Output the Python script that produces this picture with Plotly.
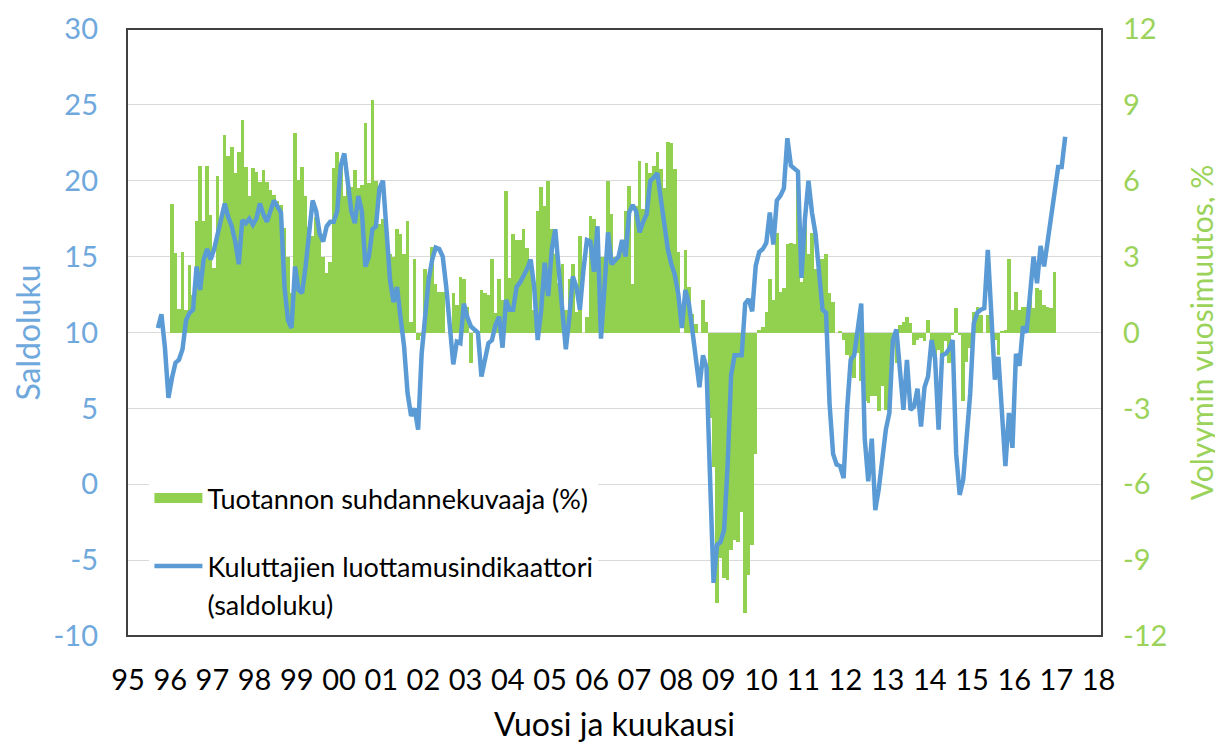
import plotly.graph_objects as go

# ---------------- data ----------------
# Consumer confidence (saldoluku), monthly from Sep 1995 to Mar 2017
line_start_year, line_start_month = 1995, 9
saldo_1995 = [10.3, 11.2, 9.0, 5.7]
saldo_1996 = [7.0, 8.0, 8.2, 8.9, 10.8, 11.3, 11.5, 14.35, 12.8, 14.8, 15.5, 14.8]
saldo_1997 = [15.5, 16.5, 17.8, 18.5, 17.6, 17.0, 16.0, 14.5, 17.4, 17.2, 17.5, 17.1]
saldo_1998 = [17.5, 18.5, 17.8, 17.3, 18.0, 18.7, 18.3, 17.9, 13.0, 10.8, 10.3, 14.35]
saldo_1999 = [12.8, 12.6, 14.35, 16.5, 18.7, 18.0, 16.5, 16.0, 17.0, 17.3, 17.3, 18.0]
saldo_2000 = [21.0, 21.8, 20.1, 18.0, 17.2, 19.0, 18.0, 14.35, 15.0, 16.8, 17.0, 19.5]
saldo_2001 = [20.0, 17.0, 13.5, 12.0, 13.0, 11.0, 9.1, 6.0, 4.5, 5.0, 3.6, 8.6]
saldo_2002 = [11.5, 13.5, 14.8, 15.6, 15.5, 15.0, 13.0, 10.6, 7.9, 9.4, 9.3, 11.9]
saldo_2003 = [11.0, 10.4, 10.2, 10.0, 7.1, 8.2, 9.3, 9.5, 10.5, 11.05, 9.0, 12.15]
saldo_2004 = [11.5, 11.5, 13.0, 13.3, 13.7, 14.2, 14.8, 13.0, 9.5, 11.5, 14.6, 12.4]
saldo_2005 = [15.5, 16.8, 14.1, 11.5, 8.9, 11.0, 13.7, 13.0, 11.5, 14.1, 16.1, 16.0]
saldo_2006 = [14.0, 17.0, 9.6, 13.0, 16.6, 14.5, 14.8, 15.0, 16.1, 15.0, 17.9, 18.4]
saldo_2007 = [18.0, 16.6, 17.3, 17.8, 20.0, 20.2, 20.5, 18.7, 16.8, 15.5, 14.5, 13.8]
saldo_2008 = [12.5, 10.3, 12.8, 11.9, 10.1, 8.0, 6.4, 8.5, 7.7, 0.5, -6.5, -4.0]
saldo_2009 = [-3.8, -3.0, 1.2, 7.2, 8.5, 8.5, 8.5, 11.9, 12.2, 11.4, 14.4, 15.3]
saldo_2010 = [15.5, 15.9, 17.9, 15.8, 18.7, 19.0, 19.5, 22.8, 21.0, 20.8, 20.6, 13.6]
saldo_2011 = [17.5, 20.0, 17.9, 16.5, 14.0, 11.5, 11.3, 5.3, 2.0, 1.3, 1.2, 0.4]
saldo_2012 = [5.0, 8.2, 8.5, 10.5, 11.9, 3.0, 0.2, 3.0, -1.7, -0.3, 1.4, 3.6]
saldo_2013 = [4.7, 9.5, 10.2, 7.8, 4.9, 8.2, 4.9, 5.1, 6.3, 3.8, 6.4, 7.1]
saldo_2014 = [9.5, 8.3, 3.6, 8.5, 8.6, 8.9, 9.5, 2.0, -0.7, 0.3, 3.1, 6.0]
saldo_2015 = [10.6, 11.3, 11.5, 11.6, 15.45, 11.7, 6.9, 8.4, 5.3, 1.2, 4.7, 2.4]
saldo_2016 = [8.6, 7.8, 10.4, 10.0, 12.5, 15.0, 13.25, 15.7, 14.35, 16.0, 17.9, 19.5]
saldo_2017 = [20.9, 20.9, 22.9]

# Production trend indicator, yearly change %, monthly Jan 1996 - Dec 2016
bar_start_year, bar_start_month = 1996, 1
tuot_1996 = [5.07, 3.14, 0.92, 3.2, 0.9, 2.67, 1.5, 4.4, 6.6, 4.4, 6.6, 4.65]
tuot_1997 = [2.54, 6.2, 4.45, 7.8, 6.96, 7.35, 6.3, 7.15, 8.4, 6.56, 5.4, 6.5]
tuot_1998 = [6.36, 5.97, 6.43, 5.97, 5.64, 5.44, 5.18, 5.05, 4.12, 3.0, 1.55, 7.88]
tuot_1999 = [6.03, 6.56, 5.38, 4.19, 3.8, 4.58, 4.19, 3.0, 2.35, 2.8, 6.5, 7.15]
tuot_2000 = [6.7, 5.38, 5.77, 5.77, 6.43, 5.7, 5.84, 8.3, 5.9, 9.2, 6.0, 4.3]
tuot_2001 = [4.5, 4.3, 3.1, 3.0, 4.1, 3.9, 3.1, 4.4, 0.4, 2.9, -0.3, -0.15]
tuot_2002 = [2.5, 1.95, 3.4, 1.9, 1.6, 1.6, 0.0, 0.2, 1.55, 1.1, 2.2, 2.1]
tuot_2003 = [1.0, -1.2, 0.1, -0.1, 1.7, 1.55, 1.5, 2.9, 0.76, 2.1, 1.3, 5.6]
tuot_2004 = [2.15, 3.9, 3.66, 3.66, 4.1, 3.33, 2.6, 0.9, 4.8, 5.77, 5.0, 6.0]
tuot_2005 = [4.1, 3.1, 1.95, 2.7, 0.9, 2.1, 2.7, 0.8, 3.8, 0.0, 0.6, 4.6]
tuot_2006 = [4.5, 3.7, 3.0, 3.0, 6.0, 4.7, 3.0, 3.0, 3.3, 4.8, 5.8, 1.9]
tuot_2007 = [5.0, 6.8, 4.9, 6.7, 6.3, 6.6, 7.15, 6.45, 5.7, 7.55, 7.5, 6.45]
tuot_2008 = [3.2, 0.0, 3.25, 1.8, 0.75, 0.35, 0.0, 1.3, 0.4, -3.4, -5.3, -10.7]
tuot_2009 = [-8.9, -9.7, -9.8, -8.6, -8.2, -8.3, -7.1, -11.1, -9.6, -8.4, -4.8, 0.1]
tuot_2010 = [0.2, 0.8, 2.1, 1.3, 3.95, 1.6, 1.75, 3.5, 3.55, 3.5, 6.0, 2.0]
tuot_2011 = [4.3, 3.1, 3.95, 2.5, 2.9, 2.9, 3.1, 1.55, 1.2, 0.0, 0.05, -0.3]
tuot_2012 = [-0.9, -1.2, -1.8, -0.8, -1.9, -2.7, -2.8, -2.5, -2.5, -3.1, -2.1, -3.05]
tuot_2013 = [-2.5, -0.55, -1.2, 0.3, 0.43, 0.63, 0.37, -0.5, -0.3, -0.2, -0.35, 0.5]
tuot_2014 = [-0.6, -0.95, -0.7, -0.95, -0.35, -1.2, -0.1, 0.96, -0.1, -2.7, -1.15, -0.6]
tuot_2015 = [0.83, 1.0, 0.7, 0.0, 0.7, 0.0, -0.3, -0.9, 0.04, 0.1, 2.9, 0.9]
tuot_2016 = [1.6, 0.9, 1.0, 1.0, 1.55, 0.96, 1.75, 1.7, 1.1, 1.0, 0.96, 2.4]

tick_years = list(range(1995, 2019))
tick_labels = ["%02d" % (y % 100) for y in tick_years]
left_ticks = [-10, -5, 0, 5, 10, 15, 20, 25, 30]
right_ticks = [-12, -9, -6, -3, 0, 3, 6, 9, 12]

# ---------------- assemble ----------------
saldo = (saldo_1995 + saldo_1996 + saldo_1997 + saldo_1998 + saldo_1999 + saldo_2000 +
         saldo_2001 + saldo_2002 + saldo_2003 + saldo_2004 + saldo_2005 + saldo_2006 +
         saldo_2007 + saldo_2008 + saldo_2009 + saldo_2010 + saldo_2011 + saldo_2012 +
         saldo_2013 + saldo_2014 + saldo_2015 + saldo_2016 + saldo_2017)
tuot = (tuot_1996 + tuot_1997 + tuot_1998 + tuot_1999 + tuot_2000 + tuot_2001 + tuot_2002 +
        tuot_2003 + tuot_2004 + tuot_2005 + tuot_2006 + tuot_2007 + tuot_2008 + tuot_2009 +
        tuot_2010 + tuot_2011 + tuot_2012 + tuot_2013 + tuot_2014 + tuot_2015 + tuot_2016)


def month_positions(y0, m0, n):
    # mid-month position on a decimal-year axis
    return [y0 + (m0 - 1 + k + 0.5) / 12.0 for k in range(n)]


x_line = month_positions(line_start_year, line_start_month, len(saldo))
x_bar = month_positions(bar_start_year, bar_start_month, len(tuot))

BLUE = "#5b9bd5"
GREEN = "#92d050"
BLUE_TXT = "#6fa8dc"
GREEN_TXT = "#9bd35a"
FONT = "Lato, Carlito, Calibri, sans-serif"

fig = go.Figure()

# legend-only sample for the bars (wide green block)
fig.add_trace(go.Scatter(
    x=[None], y=[None], mode="lines", yaxis="y",
    line=dict(color=GREEN, width=15),
    name="Tuotannon suhdannekuvaaja (%)", legendgroup="a", showlegend=True))

fig.add_trace(go.Bar(
    x=x_bar, y=tuot, yaxis="y", marker=dict(color=GREEN, line=dict(width=0)),
    width=1 / 12.0, showlegend=False, hoverinfo="x+y", legendgroup="a"))

fig.add_trace(go.Scatter(
    x=x_line, y=saldo, yaxis="y2", mode="lines",
    line=dict(color=BLUE, width=4.5),
    name="Kuluttajien luottamusindikaattori", legendgroup="b"))

# second legend text line (no visible symbol)
fig.add_trace(go.Scatter(
    x=[None], y=[None], yaxis="y2", mode="lines",
    line=dict(color="rgba(0,0,0,0)", width=0),
    name="(saldoluku)", legendgroup="b", showlegend=True, hoverinfo="skip"))

px_per_year = 42.2
x_min = 1995 - 1 / px_per_year
x_max = 1995 + 974 / px_per_year

fig.update_layout(
    width=1215, height=737,
    margin=dict(l=119, r=121, t=21, b=109, pad=0, autoexpand=False),
    paper_bgcolor="white", plot_bgcolor="white",
    font=dict(family=FONT, size=28, color="#000000"),
    bargap=0,
    showlegend=True,
    legend=dict(
        x=0.023, y=0.267, xanchor="left", yanchor="top",
        bgcolor="white", borderwidth=0,
        font=dict(family=FONT, size=27, color="#000000"),
        itemwidth=48, tracegroupgap=30, traceorder="grouped",
    ),
    xaxis=dict(
        range=[x_min, x_max], tickmode="array", tickvals=tick_years, ticktext=tick_labels,
        showgrid=False, zeroline=False, showline=False, ticks="", automargin=False,
        tickfont=dict(size=29, color="#000000"), ticklabelstandoff=24,
        title=dict(text="Vuosi ja kuukausi", font=dict(size=32, color="#000000"), standoff=18),
    ),
    yaxis=dict(
        side="right", range=[-12, 12], tickmode="array", tickvals=right_ticks,
        ticktext=[str(v) for v in right_ticks], automargin=False,
        showgrid=True, gridcolor="#d9d9d9", gridwidth=1.3,
        zeroline=False, showline=False, ticks="",
        tickfont=dict(size=29, color=GREEN_TXT), ticklabelstandoff=20,
        title=dict(text="Volyymin vuosimuutos, %", font=dict(size=30, color=GREEN_TXT), standoff=25),
    ),
    yaxis2=dict(
        side="left", overlaying="y", range=[-10, 30], tickmode="array", tickvals=left_ticks,
        ticktext=[str(v) for v in left_ticks], automargin=False,
        showgrid=False, zeroline=False, showline=False, ticks="",
        tickfont=dict(size=29, color=BLUE_TXT), ticklabelstandoff=28,
        title=dict(text="Saldoluku", font=dict(size=32, color=BLUE_TXT), standoff=4),
    ),
    shapes=[dict(type="rect", xref="paper", yref="paper", x0=0, x1=1, y0=0, y1=1,
                 line=dict(color="#404040", width=2), fillcolor="rgba(0,0,0,0)", layer="above")],
)

fig.write_html("out.html")
